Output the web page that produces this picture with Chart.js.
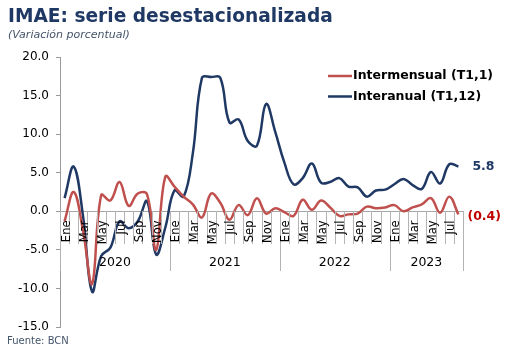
<!DOCTYPE html>
<html><head><meta charset="utf-8">
<script src="https://cdn.jsdelivr.net/npm/chart.js@4.4.0/dist/chart.umd.min.js"></script>
<style>
html,body{margin:0;padding:0;background:#fff;overflow:hidden}
#wrap{position:relative;width:509px;height:361px}
canvas{position:absolute;left:0;top:0}
.t{position:absolute;white-space:nowrap;font-family:"DejaVu Sans",Verdana,sans-serif;z-index:2}
#title{left:8px;top:5px;font-size:18.6px;font-weight:bold;color:#1f3864}
#sub{left:8px;top:28px;font-size:11px;font-style:italic;color:#44546a}
#src{left:7px;top:335px;font-size:10px;color:#44546a}
</style></head><body>
<div id="wrap">
<canvas id="c" width="509" height="361"></canvas>
<div class="t" id="title">IMAE: serie desestacionalizada</div>
<div class="t" id="sub">(Variación porcentual)</div>
<div class="t" id="src">Fuente: BCN</div>
</div>
<script>
const monthNames = ['Ene','Feb','Mar','Abr','May','Jun','Jul','Ago','Sep','Oct','Nov','Dic'];
const years = ['2020','2021','2022','2023'];
const monthsInLastYear = 8;
const seriesNames = ['Intermensual (T1,1)','Interanual (T1,12)'];
const intermensual = [
  -1.3, 2.5, -2.4, -9.4, 2.1, 1.4, 3.8, 0.7, 2.3, 2.2, -5.0, 4.5,
  3.2, 1.9, 0.9, -0.8, 2.3, 1.1, -1.1, 0.8, -0.5, 1.7, -0.3, 0.4,
  -0.1, -0.6, 1.5, 0.2, 1.4, 0.5, -0.6, -0.4, -0.3, 0.6, 0.4, 0.5,
  0.8, 0.0, 0.5, 0.9, 1.7, -0.2, 1.9, -0.4
];
const interanual = [
  1.7, 5.8, -0.5, -10.4, -5.8, -4.7, -1.3, -2.2, -1.3, 1.3, -5.6, -2.1,
  2.7, 1.9, 7.5, 17.3, 17.4, 17.3, 11.5, 11.9, 9.1, 8.5, 13.9, 10.3,
  6.3, 3.5, 4.3, 6.2, 3.7, 3.8, 4.3, 3.2, 3.1, 1.9, 2.7, 2.8,
  3.5, 4.2, 3.4, 2.9, 5.1, 3.6, 6.1, 5.8
];
const yMin = -15, yMax = 20, yStep = 5;

const RED = '#c0504d', BLUE = '#1f3864';
const FONT = '"DejaVu Sans", Verdana, sans-serif';

const categories = [];
const yearOfIdx = [];
years.forEach((yr, yi) => {
  const n = yi === years.length - 1 ? monthsInLastYear : 12;
  for (let m = 0; m < n; m++) { categories.push(monthNames[m] + ' ' + yr); yearOfIdx.push(yi); }
});

function fmtEnd(v){ return v < 0 ? '(' + Math.abs(v).toFixed(1) + ')' : v.toFixed(1); }

const axisDeco = {
  id: 'axisDeco',
  afterDatasetsDraw(chart) {
    const {ctx, scales: {x, y}} = chart;
    const y0 = Math.round(y.getPixelForValue(0));
    const n = categories.length;
    const half = (x.getPixelForValue(1) - x.getPixelForValue(0)) / 2;
    ctx.save();
    ctx.strokeStyle = '#b4b4b4'; ctx.lineWidth = 1;
    for (let i = 0; i <= n; i++) {
      const xb = Math.round(i < n ? x.getPixelForValue(i) - half : x.getPixelForValue(n - 1) + half) + 0.5;
      const isYear = (i % 12 === 0) || i === n;
      ctx.beginPath(); ctx.moveTo(xb, y0); ctx.lineTo(xb, y0 + (isYear ? 60 : 33)); ctx.stroke();
    }
    ctx.fillStyle = '#000';
    ctx.font = '11.5px ' + FONT;
    categories.forEach((c, i) => {
      const m = i % 12; if (m % 2) return;
      ctx.save();
      ctx.translate(x.getPixelForValue(i) + 2, y0 + 9.5);
      ctx.rotate(-Math.PI / 2);
      ctx.textAlign = 'right'; ctx.textBaseline = 'middle';
      ctx.fillText(monthNames[m], 0, 0);
      ctx.restore();
    });
    ctx.font = '12.5px ' + FONT;
    ctx.textAlign = 'center'; ctx.textBaseline = 'middle';
    years.forEach((yr, yi) => {
      const idx = yearOfIdx.map((v, i) => v === yi ? i : -1).filter(i => i >= 0);
      const a = x.getPixelForValue(idx[0]) - half, b = x.getPixelForValue(idx[idx.length - 1]) + half;
      ctx.fillText(yr, (a + b) / 2, y0 + 51.5);
    });
    // end labels
    const mRed = chart.getDatasetMeta(0).data, mBlue = chart.getDatasetMeta(1).data;
    const pr = mRed[mRed.length - 1], pb = mBlue[mBlue.length - 1];
    ctx.textAlign = 'left'; ctx.font = 'bold 12.5px ' + FONT;
    ctx.fillStyle = BLUE; ctx.fillText(fmtEnd(interanual[interanual.length - 1]), pb.x + 14, pb.y);
    ctx.fillStyle = '#c00000'; ctx.fillText(fmtEnd(intermensual[intermensual.length - 1]), pr.x + 9, pr.y + 2.5);
    // legend
    const ca = chart.chartArea;
    const lx = ca.right - 135, ly = ca.top + 19;
    [[RED, seriesNames[0]], [BLUE, seriesNames[1]]].forEach(([col, name], k) => {
      const yy = ly + k * 20.5;
      ctx.strokeStyle = col; ctx.lineWidth = 2.5;
      ctx.beginPath(); ctx.moveTo(lx, yy); ctx.lineTo(lx + 24, yy); ctx.stroke();
      ctx.fillStyle = '#000'; ctx.font = 'bold 12.5px ' + FONT;
      ctx.textAlign = 'left'; ctx.textBaseline = 'middle';
      ctx.fillText(name, lx + 25, yy);
    });
    ctx.restore();
  }
};

new Chart(document.getElementById('c'), {
  type: 'line',
  data: {
    labels: categories,
    datasets: [
      {label: seriesNames[0], data: intermensual, borderColor: RED, borderWidth: 2.5, pointRadius: 0, tension: 0.4, fill: false},
      {label: seriesNames[1], data: interanual, borderColor: BLUE, borderWidth: 2.5, pointRadius: 0, tension: 0.4, fill: false}
    ]
  },
  options: {
    responsive: false, animation: false, devicePixelRatio: 1,
    layout: {padding: {left: 0, right: 46, top: 57, bottom: 34}},
    plugins: {legend: {display: false}, tooltip: {enabled: false}, title: {display: false}},
    scales: {
      x: {type: 'category', display: false, offset: true},
      y: {
        min: yMin, max: yMax,
        afterFit(s) { s.width = 60; },
        border: {display: true, color: '#9a9a9a', width: 1},
        grid: {
          drawOnChartArea: true, drawTicks: true, tickLength: 4,
          color: c => (c.tick && c.tick.value === 0) ? '#a6a6a6' : 'rgba(0,0,0,0)',
          tickColor: '#9a9a9a', lineWidth: 1
        },
        ticks: {stepSize: yStep, padding: 7, color: '#000', font: {family: FONT, size: 12},
          callback: v => Number(v).toFixed(1)}
      }
    }
  },
  plugins: [axisDeco]
});
</script>
</body></html>
